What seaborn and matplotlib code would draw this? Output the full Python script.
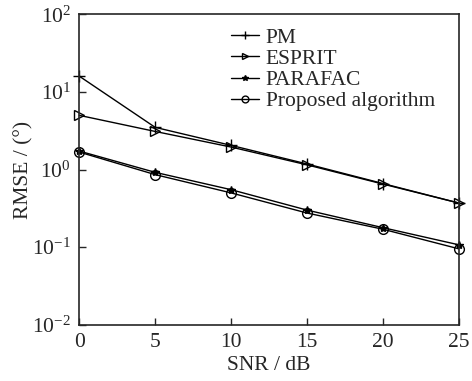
import numpy as np
import pandas as pd
import matplotlib
matplotlib.use("Agg")
import matplotlib.pyplot as plt
import seaborn as sns

snr = [0, 5, 10, 15, 20, 25]
pm = [16.0, 3.5, 2.05, 1.18, 0.66, 0.37]
esprit = [5.0, 3.1, 1.95, 1.15, 0.65, 0.37]
parafac = [1.73, 0.92, 0.55, 0.30, 0.178, 0.107]
proposed = [1.68, 0.86, 0.50, 0.275, 0.170, 0.095]

names = ["PM", "ESPRIT", "PARAFAC", "Proposed algorithm"]
series = [pm, esprit, parafac, proposed]
markers = ["+", ">", "*", "o"]
facecols = ["none", "none", "black", "none"]
msizes = [9, 7, 6, 7]

sns.set_style("ticks")
plt.rcParams["font.family"] = ["Liberation Serif", "DejaVu Serif"]
plt.rcParams["mathtext.fontset"] = "stix"

fig, ax = plt.subplots(figsize=(4.72, 3.81), dpi=100)
for name, vals, mk, fc, ms in zip(names, series, markers, facecols, msizes):
    sns.lineplot(x=snr, y=vals, ax=ax, color="black", lw=1.0, marker=mk,
                 markersize=ms, mfc=fc, mec="black", mew=1.0, label=name,
                 clip_on=False)

ax.set_yscale("log")
ax.set_xlim(0, 25)
ax.set_ylim(1e-2, 1e2)
ax.set_xticks([0, 5, 10, 15, 20, 25])
ax.set_yticks([1e-2, 1e-1, 1e0, 1e1, 1e2])
ax.minorticks_off()
ax.tick_params(direction="in", labelsize=15.5, length=5, width=1.0, pad=6)
for s in ax.spines.values():
    s.set_linewidth(1.2)
ax.set_xlabel("SNR / dB", fontsize=15.5)
ax.set_ylabel("RMSE / (°)", fontsize=15.5)
ax.yaxis.set_label_coords(-0.12, 0.5)
ax.xaxis.set_label_coords(0.5, -0.1)
ax.legend(loc="upper right", frameon=False, fontsize=15.5, handlelength=1.3,
          handletextpad=0.3, labelspacing=0.05, borderaxespad=0.0,
          markerscale=0.7, bbox_to_anchor=(0.96, 0.985))

fig.subplots_adjust(left=0.168, right=0.972, top=0.962, bottom=0.148)
fig.savefig("out.png", dpi=100)
